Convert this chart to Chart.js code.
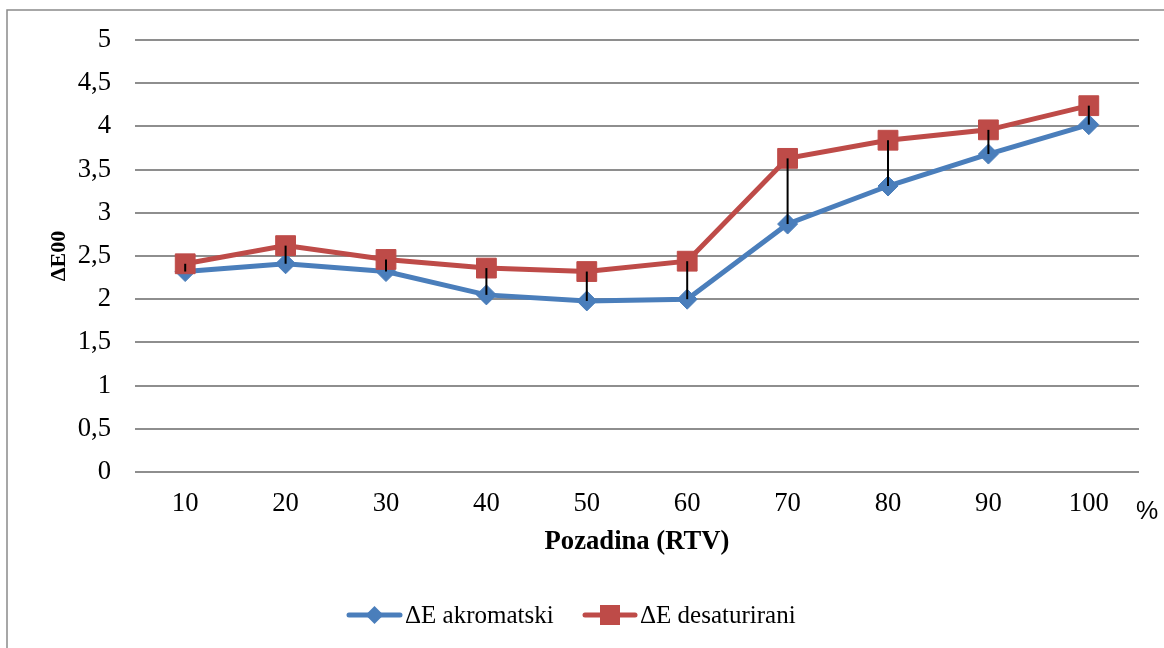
<!DOCTYPE html>
<html>
<head>
<meta charset="utf-8">
<script src="https://cdn.jsdelivr.net/npm/chart.js@4"></script>
<style>
  html, body { margin: 0; padding: 0; background: #fff; }
  #wrap { width: 1164px; height: 648px; position: relative; }
</style>
</head>
<body>
<div id="wrap"><canvas id="c" width="1164" height="648"></canvas></div>
<script>
const categories = ['10', '20', '30', '40', '50', '60', '70', '80', '90', '100'];
const akromatski = [2.32, 2.41, 2.32, 2.05, 1.98, 2.00, 2.87, 3.31, 3.68, 4.02];
const desaturirani = [2.41, 2.62, 2.46, 2.36, 2.32, 2.44, 3.63, 3.84, 3.96, 4.24];
const seriesNames = ['ΔE akromatski', 'ΔE desaturirani'];
const yTickLabels = ['0', '0,5', '1', '1,5', '2', '2,5', '3', '3,5', '4', '4,5', '5'];
const xTitle = 'Pozadina (RTV)';
const yTitle = 'ΔE00';
const unitLabel = '%';

const BLUE = '#4a7ebb';
const RED = '#be4b48';
const SERIF = "'Liberation Serif', 'Times New Roman', serif";

const framePlugin = {
  id: 'frame',
  beforeDraw(chart) {
    const ctx = chart.ctx;
    ctx.save();
    ctx.fillStyle = '#fff';
    ctx.fillRect(0, 0, chart.width, chart.height);
    ctx.strokeStyle = '#8a8a8a';
    ctx.lineWidth = 1.5;
    ctx.strokeRect(7, 10, chart.width + 10, chart.height + 10);
    ctx.restore();
  }
};

const dropLinePlugin = {
  id: 'dropLines',
  afterDatasetsDraw(chart) {
    const ctx = chart.ctx;
    const m0 = chart.getDatasetMeta(0).data;
    const m1 = chart.getDatasetMeta(1).data;
    ctx.save();
    ctx.strokeStyle = '#000';
    ctx.lineWidth = 2;
    for (let i = 0; i < m0.length; i++) {
      ctx.beginPath();
      ctx.moveTo(m1[i].x, m1[i].y);
      ctx.lineTo(m0[i].x, m0[i].y);
      ctx.stroke();
    }
    ctx.restore();
  }
};

const extrasPlugin = {
  id: 'extras',
  afterDraw(chart) {
    const ctx = chart.ctx;
    ctx.save();
    // unit label
    ctx.fillStyle = '#000';
    ctx.font = "25px 'Liberation Sans', Arial, sans-serif";
    ctx.textAlign = 'center';
    ctx.textBaseline = 'middle';
    ctx.fillText(unitLabel, 1147, 512);

    // legend
    const y = 615;
    const items = [
      { x0: 349, x1: 400, color: BLUE, style: 'diamond', text: seriesNames[0], tx: 405 },
      { x0: 585, x1: 635, color: RED, style: 'square', text: seriesNames[1], tx: 640 }
    ];
    items.forEach(it => {
      ctx.strokeStyle = it.color;
      ctx.lineWidth = 5;
      ctx.lineCap = 'round';
      ctx.beginPath();
      ctx.moveTo(it.x0, y);
      ctx.lineTo(it.x1, y);
      ctx.stroke();
      ctx.fillStyle = it.color;
      const cx = (it.x0 + it.x1) / 2;
      ctx.beginPath();
      if (it.style === 'diamond') {
        ctx.moveTo(cx - 9, y); ctx.lineTo(cx, y - 9); ctx.lineTo(cx + 9, y); ctx.lineTo(cx, y + 9);
        ctx.closePath();
      } else {
        ctx.rect(cx - 10, y - 10, 20, 20);
      }
      ctx.fill();
      ctx.fillStyle = '#000';
      ctx.font = "25px " + SERIF;
      ctx.textAlign = 'left';
      ctx.textBaseline = 'middle';
      ctx.fillText(it.text, it.tx, y + 1);
    });
    ctx.restore();
  }
};

new Chart(document.getElementById('c'), {
  type: 'line',
  data: {
    labels: categories,
    datasets: [
      {
        label: seriesNames[0],
        data: akromatski,
        borderColor: BLUE,
        backgroundColor: BLUE,
        borderWidth: 5,
        pointStyle: 'rectRot',
        pointRadius: 10,
        pointBorderWidth: 1,
        pointBorderColor: BLUE,
        pointBackgroundColor: BLUE,
        tension: 0,
        order: 2
      },
      {
        label: seriesNames[1],
        data: desaturirani,
        borderColor: RED,
        backgroundColor: RED,
        borderWidth: 5,
        pointStyle: 'rect',
        pointRadius: 14,
        pointBorderWidth: 1,
        pointBorderColor: RED,
        pointBackgroundColor: RED,
        tension: 0,
        order: 1
      }
    ]
  },
  options: {
    responsive: false,
    animation: false,
    devicePixelRatio: 1,
    layout: { padding: { top: 39, right: 25, bottom: 76, left: 0 } },
    plugins: {
      legend: { display: false },
      tooltip: { enabled: false }
    },
    scales: {
      x: {
        offset: true,
        grid: { display: false, drawTicks: false },
        border: { display: false },
        ticks: {
          color: '#000',
          padding: 16,
          font: { family: SERIF, size: 26.67 },
          maxRotation: 0
        },
        title: {
          display: true,
          text: xTitle,
          color: '#000',
          font: { family: SERIF, size: 26.67, weight: 'bold' },
          padding: { top: 0, bottom: 14 }
        },
        afterFit(scale) { scale.height = 100; }
      },
      y: {
        min: 0,
        max: 5,
        ticks: {
          stepSize: 0.5,
          color: '#000',
          padding: 24,
          font: { family: SERIF, size: 26.67 },
          callback(value, index) { return yTickLabels[index]; }
        },
        grid: { color: '#8e8e8e', lineWidth: 2, drawTicks: false },
        border: { display: false },
        title: {
          display: true,
          text: yTitle,
          color: '#000',
          font: { family: SERIF, size: 22, weight: 'bold' },
          padding: { top: 46, bottom: 0 }
        },
        afterFit(scale) { scale.width = 135; }
      }
    }
  },
  plugins: [framePlugin, dropLinePlugin, extrasPlugin]
});
</script>
</body>
</html>
